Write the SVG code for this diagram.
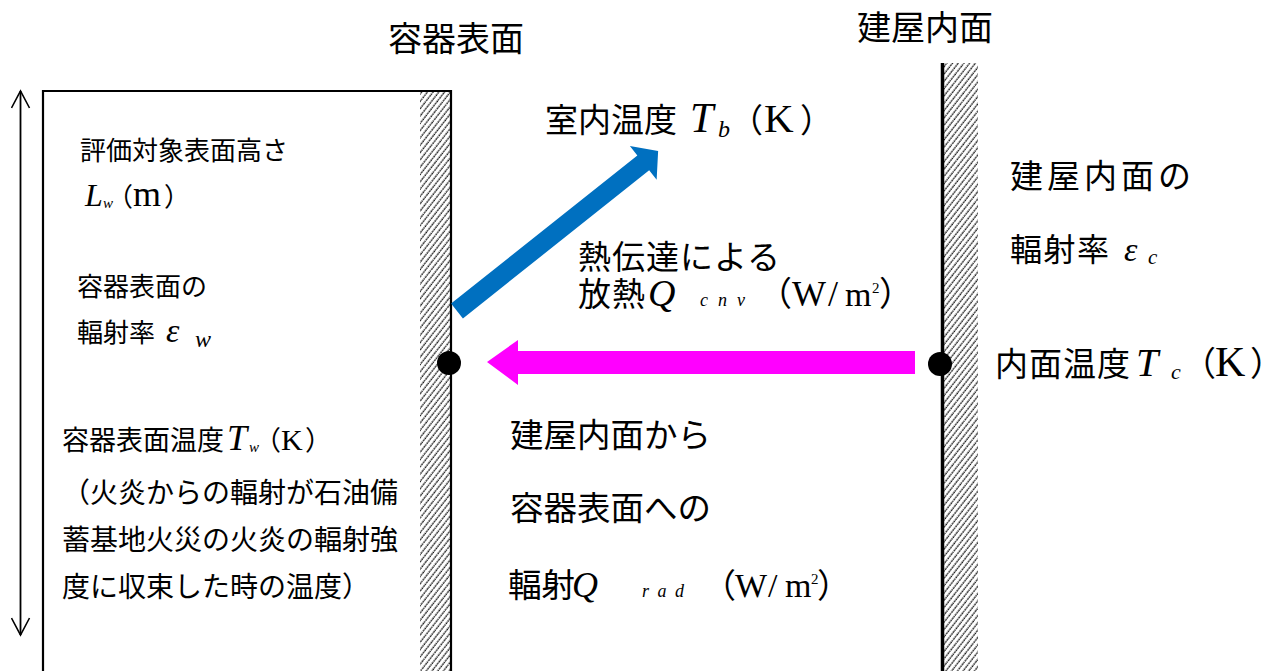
<svg xmlns="http://www.w3.org/2000/svg" width="1285" height="671" viewBox="0 0 1285 671">
<style>
.t{font-family:"Liberation Serif","Noto Sans CJK JP",serif;fill:#000}
.i{font-family:"Liberation Serif",serif;font-style:italic}
.r{font-family:"Liberation Serif",serif}
</style>
<defs>
<pattern id="hatch" patternUnits="userSpaceOnUse" width="4.5" height="10" patternTransform="rotate(38)">
<line x1="2" y1="0" x2="2" y2="10" stroke="#000" stroke-width="1.25" stroke-dasharray="1.8 0.8"/>
</pattern>
<marker id="open" viewBox="0 0 20 20" refX="18" refY="10" markerWidth="20" markerHeight="20" markerUnits="userSpaceOnUse" orient="auto-start-reverse">
<path d="M1,1 L18,10 L1,19" fill="none" stroke="#000" stroke-width="1.6"/>
</marker>
</defs>
<rect width="1285" height="671" fill="#fff"/>

<g id="container">
<rect x="420" y="91" width="31" height="590" fill="url(#hatch)"/>
<path d="M43,680 V91 H451 V680" fill="none" stroke="#000" stroke-width="2.2"/>
</g>

<g id="building-wall">
<rect x="944" y="63" width="34" height="620" fill="url(#hatch)"/>
<line x1="942.5" y1="63" x2="942.5" y2="671" stroke="#000" stroke-width="3.5"/>
</g>

<g id="connectors">
<line x1="20.5" y1="91" x2="20.5" y2="635" stroke="#000" stroke-width="1.8" marker-start="url(#open)" marker-end="url(#open)"/>
<g transform="translate(457,311) rotate(-38.5)">
<polygon points="0,-9.5 238,-9.5 238,-21.5 257,0 238,21.5 238,9.5 0,9.5" fill="#0070C0"/>
</g>
<polygon points="915,351 518,351 518,340 487,362 518,385 518,374 915,374" fill="#FF00FF"/>
<circle cx="449" cy="363" r="12" fill="#000"/>
<circle cx="940" cy="364" r="12" fill="#000"/>
</g>

<g id="labels-top">
<text class="t" x="388" y="51" font-size="34">容器表面</text>
<text class="t" x="857" y="40" font-size="34">建屋内面</text>
</g>

<g id="container-labels">
<text class="t" x="80" y="160" font-size="26">評価対象表面高さ</text>
<text class="t" y="206" font-size="26"><tspan class="i" x="85" font-size="32">L</tspan><tspan class="i" x="103" y="208" font-size="15">w</tspan><tspan x="107" y="206">（</tspan><tspan class="r" x="133" font-size="36">m</tspan><tspan x="164">）</tspan></text>
<text class="t" x="77" y="296" font-size="26">容器表面の</text>
<text class="t" y="342" font-size="26"><tspan x="77">輻射率</tspan><tspan class="i" x="166" font-size="34">ε</tspan><tspan class="i" x="195" y="347" font-size="24">w</tspan></text>
<text class="t" y="450" font-size="27"><tspan x="62">容器表面温度</tspan><tspan class="i" x="227" font-size="36">T</tspan><tspan class="i" x="249" y="452" font-size="15">w</tspan><tspan x="254" y="450">（</tspan><tspan class="r" x="281" font-size="30">K</tspan><tspan x="305">）</tspan></text>
<text class="t" x="62" y="503" font-size="28">（火炎からの輻射が石油備</text>
<text class="t" x="62" y="550" font-size="28">蓄基地火災の火炎の輻射強</text>
<text class="t" x="62" y="597" font-size="28">度に収束した時の温度）</text>
</g>

<g id="middle-labels">
<text class="t" y="132" font-size="33"><tspan x="545">室内温度</tspan><tspan class="i" x="690" font-size="42">T</tspan><tspan class="i" x="718" y="137" font-size="24">b</tspan><tspan x="730" y="132">（</tspan><tspan class="r" x="764" font-size="41">K</tspan><tspan x="800">）</tspan></text>
<text class="t" x="578" y="269" font-size="33" letter-spacing="1">熱伝達による</text>
<text class="t" y="306" font-size="33"><tspan x="578" letter-spacing="1">放熱</tspan><tspan class="i" x="648" font-size="38">Q</tspan><tspan class="i" x="700" font-size="18" letter-spacing="10">cnv</tspan><tspan x="758" font-size="34">（</tspan><tspan class="r" x="792" font-size="36">W</tspan><tspan class="r" x="828" font-size="36">/</tspan><tspan class="r" x="845" font-size="34">m</tspan><tspan class="r" x="872" y="293" font-size="15">2</tspan><tspan x="879" y="306" font-size="34">）</tspan></text>
<text class="t" x="510" y="447" font-size="33.5">建屋内面から</text>
<text class="t" x="510" y="520" font-size="33.5">容器表面への</text>
<text class="t" y="597" font-size="33.5"><tspan x="508">輻射</tspan><tspan class="i" x="572" font-size="36">Q</tspan><tspan class="i" x="642" font-size="18" letter-spacing="8.5">rad</tspan><tspan x="702.5">（</tspan><tspan class="r" x="735" font-size="34">W</tspan><tspan class="r" x="768" font-size="34">/</tspan><tspan class="r" x="785" font-size="34">m</tspan><tspan class="r" x="811" y="584" font-size="15">2</tspan><tspan x="817" y="597">）</tspan></text>
</g>

<g id="wall-labels">
<text class="t" x="1010" y="188" font-size="33" letter-spacing="4">建屋内面の</text>
<text class="t" y="261" font-size="32"><tspan x="1010" letter-spacing="1.5">輻射率</tspan><tspan class="i" x="1124" font-size="34">ε</tspan><tspan class="i" x="1148" y="264" font-size="21">c</tspan></text>
<text class="t" y="376" font-size="33"><tspan x="995" letter-spacing="1">内面温度</tspan><tspan class="i" x="1136" font-size="40">T</tspan><tspan class="i" x="1171" y="379" font-size="22">c</tspan><tspan x="1182" y="376" font-size="34">（</tspan><tspan class="r" x="1215" font-size="42">K</tspan><tspan x="1250" font-size="34">）</tspan></text>
</g>
</svg>
